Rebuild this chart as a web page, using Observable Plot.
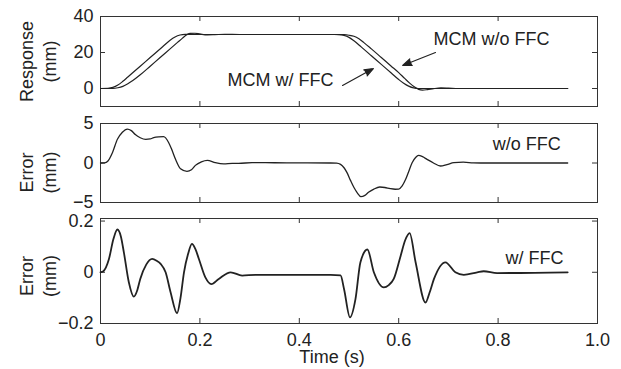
<!DOCTYPE html>
<html><head><meta charset="utf-8">
<script src="https://cdn.jsdelivr.net/npm/d3@7"></script>
<script src="https://cdn.jsdelivr.net/npm/@observablehq/plot@0.6"></script>
<style>
body{margin:0;background:#fff;}
#chart{position:relative;width:621px;height:369px;background:#fff;}
#chart svg{position:absolute;left:0;top:0;}
#chart g[aria-label="arrow"] path{fill:#222;}
</style></head><body><div id="chart"></div>
<script>
// ---------- data ----------
const xTicks = [0, 0.2, 0.4, 0.6, 0.8, 1.0];
const xTickLabels = ["0", "0.2", "0.4", "0.6", "0.8", "1.0"];
const xLabel = "Time (s)";

// Panel 1: response (mm)
const respTicks = [0, 20, 40];
const respWithT = [0, 0.015, 0.025, 0.035, 0.045, 0.055, 0.07, 0.09, 0.11, 0.125, 0.14, 0.15, 0.16, 0.17, 0.185, 0.2,
  0.47, 0.48, 0.49, 0.50, 0.51, 0.525, 0.545, 0.565, 0.585, 0.60, 0.61, 0.62, 0.63, 0.64, 0.94];
const respWithV = [0, 0.1, 0.6, 1.9, 4.0, 6.4, 10.0, 14.8, 19.6, 23.2, 26.8, 28.6, 29.7, 30.1, 30.1, 30.0,
  30.0, 29.9, 29.5, 28.4, 26.5, 23.0, 18.2, 13.4, 8.6, 5.0, 2.9, 1.3, 0.3, 0, 0];
const respWoT = [0, 0.025, 0.035, 0.045, 0.055, 0.065, 0.08, 0.10, 0.12, 0.14, 0.155, 0.165, 0.172, 0.18, 0.19, 0.2, 0.215, 0.23, 0.25, 0.28,
  0.475, 0.49, 0.50, 0.51, 0.52, 0.53, 0.545, 0.565, 0.585, 0.60, 0.612, 0.622, 0.632, 0.64, 0.648, 0.658, 0.67, 0.685, 0.70, 0.72, 0.94];
const respWoV = [0, 0, 0.4, 1.2, 2.6, 4.4, 7.6, 12.4, 17.2, 22.0, 25.6, 28.0, 29.6, 30.6, 30.7, 30.3, 29.8, 29.9, 30.1, 30.0,
  30.0, 29.9, 29.6, 29.0, 27.6, 25.5, 22.0, 17.2, 12.4, 8.8, 5.6, 3.0, 0.8, -0.5, -0.9, -0.6, -0.1, 0.3, 0.2, 0, 0];

// Panel 2: error without FFC (mm)
const errWoTicks = [-5, 0, 5];
const errWoT = [0, 0.008, 0.015, 0.024, 0.034, 0.044, 0.054, 0.062, 0.070, 0.080, 0.091, 0.100, 0.107, 0.117, 0.127, 0.137, 0.144, 0.151,
  0.161, 0.174, 0.183, 0.191, 0.203, 0.215, 0.231, 0.248, 0.265, 0.278, 0.305, 0.35, 0.40, 0.463,
  0.475, 0.483, 0.490, 0.496, 0.503, 0.510, 0.517, 0.524, 0.532, 0.540, 0.550, 0.562, 0.572, 0.583, 0.593, 0.600, 0.607, 0.614, 0.620,
  0.627, 0.634, 0.640, 0.648, 0.657, 0.670, 0.684, 0.697, 0.711, 0.730, 0.750, 0.765, 0.94];
const errWoV = [0, 0.02, 0.25, 1.3, 3.0, 3.9, 4.3, 4.1, 3.6, 3.2, 3.0, 3.05, 3.2, 3.3, 3.33, 2.6, 1.6, 0.47,
  -0.72, -1.05, -0.85, -0.3, 0.15, 0.34, 0.04, -0.12, -0.05, -0.05, 0.05, 0.03, 0.02, 0,
  -0.02, -0.17, -0.6, -1.22, -2.2, -3.1, -3.8, -4.26, -4.1, -3.67, -3.3, -3.04, -3.1, -3.25, -3.32, -3.3, -2.9, -2.07, -1.1,
  0.04, 0.7, 0.97, 0.8, 0.46, 0.0, -0.38, -0.2, 0.04, 0.1, 0.02, 0, 0];

// Panel 3: error with FFC (mm)
const errWTicks = [-0.2, 0, 0.2];
const errWT = [0, 0.005, 0.017, 0.026, 0.034, 0.041, 0.047, 0.057, 0.067, 0.074, 0.080, 0.092, 0.104, 0.113, 0.121, 0.131, 0.141, 0.154,
  0.161, 0.168, 0.176, 0.184, 0.191, 0.198, 0.211, 0.223, 0.238, 0.262, 0.285, 0.312, 0.35, 0.40, 0.463,
  0.483, 0.490, 0.502, 0.513, 0.523, 0.537, 0.550, 0.570, 0.580, 0.590, 0.604, 0.613, 0.622, 0.634, 0.654, 0.662, 0.671,
  0.694, 0.714, 0.731, 0.758, 0.771, 0.798, 0.94];
const errWV = [0, 0.003, 0.052, 0.13, 0.167, 0.14, 0.078, -0.039, -0.095, -0.07, -0.026, 0.03, 0.052, 0.045, 0.033, 0.0, -0.078, -0.16,
  -0.1, 0.0, 0.07, 0.111, 0.09, 0.052, -0.02, -0.046, -0.026, 0.0, -0.013, -0.01, -0.01, -0.01, -0.01,
  -0.012, -0.065, -0.176, -0.105, 0.039, 0.089, 0.0, -0.059, -0.05, -0.026, 0.065, 0.125, 0.153, 0.039, -0.118, -0.08, -0.026,
  0.039, 0.0, -0.01, 0.0, 0.004, -0.003, 0];

// Annotations
const annoResp = [{x: 0.670, y: 27.5, text: "MCM w/o FFC"}, {x: 0.2555, y: 4.4, text: "MCM w/ FFC"}];
const arrowsResp = [{x1: 0.674, y1: 20.0, x2: 0.608, y2: 12.8}, {x1: 0.487, y1: 1.7, x2: 0.549, y2: 11.1}];
const annoErrWo = [{x: 0.789, y: 2.4, text: "w/o FFC"}];
const annoErrW = [{x: 0.815, y: 0.055, text: "w/ FFC"}];

// ---------- layout ----------
const W = 621, H = 369, ML = 100, MR = 24;
const FONT = "'Liberation Sans', Arial, Helvetica, sans-serif";
const INK = "#222";
const zip = (T, V) => T.map((t, i) => ({t, v: V[i]}));
const fmtY = d3.format("");

function panel({top, bottom, domain, ticks, label, labelDy, series, sw, annos, arrows, xAxis}) {
  const fh = bottom - top, fw = W - ML - MR;
  const marks = [
    Plot.frame({stroke: "#333", strokeWidth: 1}),
    Plot.tickX(xTicks, {x: d => d, stroke: "#333", insetBottom: fh - 5}),
    Plot.tickX(xTicks, {x: d => d, stroke: "#333", insetTop: fh - 5}),
    Plot.tickY(ticks, {y: d => d, stroke: "#333", insetRight: fw - 5}),
    Plot.tickY(ticks, {y: d => d, stroke: "#333", insetLeft: fw - 5}),
    Plot.axisY(ticks, {tickSize: 0, tickPadding: 7, fontSize: 18, label: null, tickFormat: d => fmtY(d).replace("-", "\u2212")}),
    Plot.text([label], {frameAnchor: "left", text: d => d, rotate: -90, dx: -63.5, dy: labelDy,
      textAnchor: "middle", lineAnchor: "middle", lineHeight: 1.28, fontSize: 18, fill: INK}),
    ...series.map(s => Plot.line(s, {x: "t", y: "v", stroke: INK, strokeWidth: sw, curve: "monotone-x"})),
    Plot.text(annos, {x: "x", y: "y", text: "text", textAnchor: "start", fontSize: 18, fill: INK})
  ];
  if (arrows) marks.push(Plot.arrow(arrows, {x1: "x1", y1: "y1", x2: "x2", y2: "y2", stroke: INK, fill: INK,
    strokeWidth: 1.2, headLength: 12, headAngle: 42}));
  if (xAxis) {
    marks.push(Plot.axisX(xTicks, {tickSize: 0, tickPadding: 10, fontSize: 18, label: null,
      tickFormat: d => xTickLabels[xTicks.indexOf(d)]}));
    marks.push(Plot.text([xLabel], {frameAnchor: "bottom", text: d => d, dx: -17, dy: 34,
      lineAnchor: "middle", textAnchor: "middle", fontSize: 18, fill: INK}));
  }
  return Plot.plot({
    width: W, height: H, marginLeft: ML, marginRight: MR, marginTop: top, marginBottom: H - bottom,
    style: {background: "transparent", fontFamily: FONT, fontSize: "18px", color: INK, overflow: "visible"},
    x: {domain: [0, 1], axis: null},
    y: {domain, axis: null},
    marks
  });
}

const chart = document.getElementById("chart");
chart.append(panel({top: 16, bottom: 106, domain: [-10, 40], ticks: respTicks, label: "Response\n(mm)", labelDy: 0,
  series: [zip(respWithT, respWithV), zip(respWoT, respWoV)], sw: 1.2, annos: annoResp, arrows: arrowsResp}));
chart.append(panel({top: 123, bottom: 202, domain: [-5, 5], ticks: errWoTicks, label: "Error\n(mm)", labelDy: 9.5,
  series: [zip(errWoT, errWoV)], sw: 1.3, annos: annoErrWo}));
chart.append(panel({top: 218, bottom: 323, domain: [-0.2, 0.21], ticks: errWTicks, label: "Error\n(mm)", labelDy: 5,
  series: [zip(errWT, errWV)], sw: 1.8, annos: annoErrW, xAxis: true}));
</script></body></html>
